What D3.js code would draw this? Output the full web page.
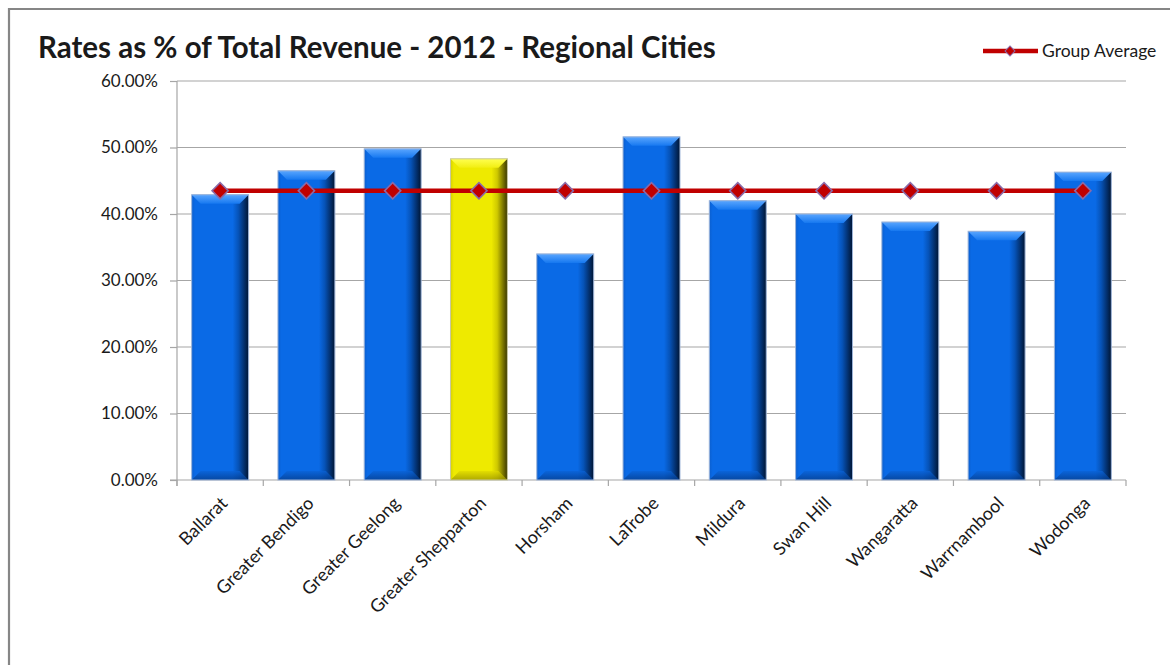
<!DOCTYPE html>
<html>
<head>
<meta charset="utf-8">
<script src="https://cdn.jsdelivr.net/npm/d3@7"></script>
<style>
  html, body { margin: 0; padding: 0; background: #fff; }
  svg { display: block; }
  text { font-family: Lato, "Open Sans", sans-serif; fill: #1a1a1a; }
</style>
</head>
<body>
<svg id="chart" width="1170" height="665"></svg>
<script>
// Rates as a share of total revenue, 2012, for Victoria's regional cities
const cities = ["Ballarat", "Greater Bendigo", "Greater Geelong", "Greater Shepparton", "Horsham",
  "LaTrobe", "Mildura", "Swan Hill", "Wangaratta", "Warrnambool", "Wodonga"];
const ratesShare = [0.429, 0.465, 0.498, 0.483, 0.340, 0.516, 0.420, 0.400, 0.388, 0.374, 0.463];
const groupAverage = [0.435, 0.435, 0.435, 0.435, 0.435, 0.435, 0.435, 0.435, 0.435, 0.435, 0.435];
const highlighted = ["Greater Shepparton"];
const yTicks = [0, 0.1, 0.2, 0.3, 0.4, 0.5, 0.6];
const titleText = "Rates as % of Total Revenue - 2012 - Regional Cities";
const legendLabel = "Group Average";

const svg = d3.select("#chart");
const margin = { left: 177, right: 1126, top: 81, bottom: 480 };

const x = d3.scaleBand().domain(cities).range([margin.left, margin.right]).paddingInner(0.34).paddingOuter(0.17);
const xPoint = d3.scaleBand().domain(cities).range([margin.left, margin.right]);
const y = d3.scaleLinear().domain([0, 0.6]).range([margin.bottom, margin.top]);

// outer frame
svg.append("path")
  .attr("d", "M9,665 V9 H1170")
  .attr("fill", "none").attr("stroke", "#868686").attr("stroke-width", 2.2);

// gradients for the bevelled bars
const defs = svg.append("defs");
function sideGradient(id, stops) {
  const g = defs.append("linearGradient").attr("id", id).attr("x1", 0).attr("x2", 1).attr("y1", 0).attr("y2", 0);
  stops.forEach(s => g.append("stop").attr("offset", s[0]).attr("stop-color", s[1]));
}
function vertGradient(id, stops) {
  const g = defs.append("linearGradient").attr("id", id).attr("x1", 0).attr("x2", 0).attr("y1", 0).attr("y2", 1);
  stops.forEach(s => g.append("stop").attr("offset", s[0]).attr("stop-color", s[1]));
}
sideGradient("blueBody", [[0, "#0b5fcf"], [0.06, "#0a6ae6"], [0.72, "#0a6ae6"], [0.82, "#0653b8"], [0.92, "#03306e"], [1, "#001533"]]);
sideGradient("yellowBody", [[0, "#d8d200"], [0.06, "#eeea00"], [0.72, "#eeea00"], [0.82, "#cfc900"], [0.92, "#7d7800"], [1, "#3a3700"]]);
vertGradient("blueTop", [[0, "#5aa6ff"], [1, "#1678f0"]]);
vertGradient("yellowTop", [[0, "#ffff50"], [1, "#f2ee10"]]);
vertGradient("blueBottom", [[0, "#0a62d6"], [1, "#043c8c"]]);
vertGradient("yellowBottom", [[0, "#e0da00"], [1, "#9a9400"]]);

// horizontal gridlines
svg.append("g").selectAll("line").data(yTicks.filter(t => t > 0)).join("line")
  .attr("x1", margin.left).attr("x2", margin.right)
  .attr("y1", d => y(d)).attr("y2", d => y(d))
  .attr("stroke", "#a6a6a6").attr("stroke-width", 1.2);

// y axis
const yAxis = svg.append("g").attr("transform", `translate(${margin.left},0)`)
  .call(d3.axisLeft(y).tickValues(yTicks).tickFormat(d3.format(".2%")).tickSize(7).tickPadding(12));
yAxis.select(".domain").attr("stroke", "#a6a6a6").attr("stroke-width", 1.2).attr("d", `M0,${margin.top}V${margin.bottom + 6}`);
yAxis.selectAll(".tick line").attr("stroke", "#a6a6a6").attr("stroke-width", 1.2);
yAxis.selectAll(".tick text").attr("font-size", 17).attr("font-family", "Lato, sans-serif").attr("fill", "#1a1a1a");

// x axis
const xAxis = svg.append("g").attr("transform", `translate(0,${margin.bottom})`);
xAxis.append("line").attr("x1", margin.left - 7).attr("x2", margin.right)
  .attr("y1", 0).attr("y2", 0).attr("stroke", "#a6a6a6").attr("stroke-width", 1.2);
const tickXs = cities.map(c => xPoint(c)).concat([margin.right]);
xAxis.selectAll("line.tk").data(tickXs).join("line").attr("class", "tk")
  .attr("x1", d => d).attr("x2", d => d).attr("y1", 0).attr("y2", 6)
  .attr("stroke", "#a6a6a6").attr("stroke-width", 1.2);

// bars
const bars = svg.append("g").selectAll("g").data(cities).join("g");
bars.each(function (c, i) {
  const g = d3.select(this);
  const kind = highlighted.includes(c) ? "yellow" : "blue";
  const x0 = x(c), w = x.bandwidth(), y0 = y(ratesShare[i]), y1 = y(0), b = 9;
  g.append("rect").attr("x", x0).attr("y", y0).attr("width", w).attr("height", y1 - y0)
    .attr("fill", `url(#${kind}Body)`);
  g.append("path")
    .attr("d", `M${x0},${y0}H${x0 + w}L${x0 + w - b},${y0 + b}H${x0 + b}Z`)
    .attr("fill", `url(#${kind}Top)`);
  g.append("path")
    .attr("d", `M${x0},${y1}H${x0 + w}L${x0 + w - b},${y1 - b}H${x0 + b}Z`)
    .attr("fill", `url(#${kind}Bottom)`).attr("opacity", 0.75);
  g.append("rect").attr("x", x0).attr("y", y0).attr("width", w).attr("height", y1 - y0)
    .attr("fill", "none").attr("stroke", kind === "yellow" ? "#c8c8a0" : "#9db4d8").attr("stroke-width", 1);
});

// category labels
svg.append("g").selectAll("text").data(cities).join("text")
  .attr("transform", d => `translate(${x(d) + x.bandwidth() / 2 + 4},${margin.bottom + 20}) rotate(-45)`)
  .attr("text-anchor", "end").attr("dy", "0.35em")
  .attr("font-size", 18).text(d => d);

// group average line with diamond markers
const line = d3.line().x((d, i) => x(cities[i]) + x.bandwidth() / 2).y(d => y(d));
svg.append("path").datum(groupAverage).attr("d", line)
  .attr("fill", "none").attr("stroke", "#c00000").attr("stroke-width", 4.5);
svg.append("g").selectAll("path").data(groupAverage).join("path")
  .attr("transform", (d, i) => `translate(${x(cities[i]) + x.bandwidth() / 2},${y(d)}) rotate(45)`)
  .attr("d", d3.symbol().type(d3.symbolSquare).size(130))
  .attr("fill", "#c00000").attr("stroke", "#8a6aa8").attr("stroke-width", 1.6);

// title
svg.append("text").attr("x", 38).attr("y", 58)
  .attr("font-size", 29.5).attr("font-weight", "bold").attr("fill", "#000").text(titleText);

// legend
const lg = svg.append("g");
lg.append("line").attr("x1", 983).attr("x2", 1038).attr("y1", 51).attr("y2", 51)
  .attr("stroke", "#c00000").attr("stroke-width", 4.5);
lg.append("path").attr("transform", "translate(1010,51) rotate(45)")
  .attr("d", d3.symbol().type(d3.symbolSquare).size(50))
  .attr("fill", "#c00000").attr("stroke", "#8a6aa8").attr("stroke-width", 1);
lg.append("text").attr("x", 1042).attr("y", 57).attr("font-size", 17.5).text(legendLabel);
</script>
</body>
</html>
